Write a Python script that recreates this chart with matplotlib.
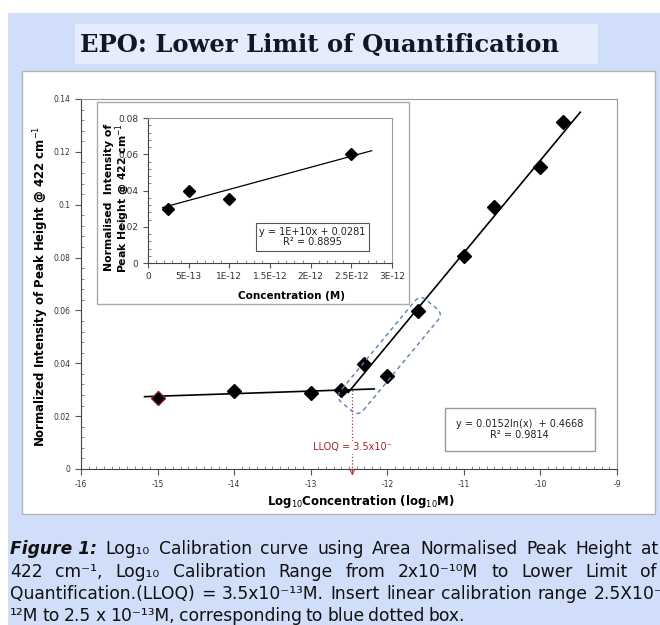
import numpy as np
import matplotlib
matplotlib.use("Agg")
import matplotlib.pyplot as plt
from matplotlib.patches import Rectangle, FancyBboxPatch
from matplotlib.ticker import MultipleLocator, FuncFormatter
from matplotlib.transforms import Affine2D

plt.rcParams['axes.unicode_minus'] = False
plt.rcParams['font.family'] = ['DejaVu Sans']

# main calibration: log10 concentration vs normalised peak height
log_conc = [-15.0, -14.0, -13.0, -12.6, -12.3, -12.0, -11.6, -11.0, -10.6, -10.0, -9.7]
peak_height = [0.0270, 0.0296, 0.0289, 0.0299, 0.0396, 0.0353, 0.0598, 0.0806, 0.0992, 0.1141, 0.1314]

# inset: linear calibration range
inset_conc = [2.5e-13, 5e-13, 1e-12, 2.5e-12]
inset_height = [0.0300, 0.0400, 0.0355, 0.0600]

# trendline from the chart label: y = 0.0152 ln(x) + 0.4668
log_a, log_b = 0.0152, 0.4668
lloq = 3.5e-13

W, H = 660, 625
def fx(px):
    return px / W
def fy(py):
    return 1 - py / H

fig = plt.figure(figsize=(6.6, 6.25), dpi=100)
fig.patch.set_facecolor('white')

# poster background, title box, white panel
fig.add_artist(Rectangle((fx(8), 0), 1, fy(13), transform=fig.transFigure,
                         facecolor='#d0defa', edgecolor='none', zorder=-5))
fig.add_artist(Rectangle((fx(75), fy(64)), fx(598) - fx(75), fy(24) - fy(64),
                         transform=fig.transFigure, facecolor='#e5edfd',
                         edgecolor='none', zorder=-4))
fig.text(fx(80), fy(45), 'EPO: Lower Limit of Quantification', family='DejaVu Serif',
         fontweight='bold', fontsize=17.5, color='#101828', ha='left', va='center')
fig.add_artist(Rectangle((fx(22), fy(514)), fx(655) - fx(22), fy(71) - fy(514),
                         transform=fig.transFigure, facecolor='white',
                         edgecolor='#b4b4b4', lw=1, zorder=-4))

# ---- main axes ----
ax = fig.add_axes([fx(81), fy(469), fx(617) - fx(81), fy(99) - fy(469)])
ax.set_facecolor('none')
ax.set_xlim(-16, -9)
ax.set_ylim(0, 0.14)
ax.xaxis.set_major_locator(MultipleLocator(1))
ax.xaxis.set_minor_locator(MultipleLocator(0.1))
ax.yaxis.set_major_locator(MultipleLocator(0.02))
ax.yaxis.set_minor_locator(MultipleLocator(0.004))
ax.yaxis.set_major_formatter(FuncFormatter(lambda v, p: '%g' % round(v, 4)))
ax.tick_params(which='major', direction='out', length=4, width=0.8, labelsize=5.5,
               labelcolor='#333333', color='#555555')
ax.tick_params(which='minor', direction='in', length=2.5, width=0.6, color='#777777')
ax.tick_params(axis='x', pad=4)
for s in ['left', 'bottom']:
    ax.spines[s].set_color('#444444')
for s in ['top', 'right']:
    ax.spines[s].set_color('#999999')

ax.set_xlabel('Log$_{10}$Concentration (log$_{10}$M)', fontsize=8.5, fontweight='bold')
ax.xaxis.set_label_coords(0.522, -0.064)
ax.set_ylabel('Normalized Intensity of Peak Height @ 422 cm$^{-1}$', fontsize=8.5,
              fontweight='bold')
ax.yaxis.set_label_coords(-0.056, 0.495)

# flat (below LLOQ) trend through the first four points
flat = np.polyfit(log_conc[:4], peak_height[:4], 1)
xf = np.array([-15.17, -12.17])
ax.plot(xf, np.polyval(flat, xf), color='black', lw=1.2, zorder=2)

# log trendline
xs = np.array([-12.51, -9.48])
ax.plot(xs, log_a * np.log(10.0 ** xs) + log_b, color='black', lw=1.2, zorder=2)

ax.plot(log_conc[1:], peak_height[1:], 'D', color='black', ms=7, zorder=3)
ax.plot(log_conc[:1], peak_height[:1], 'D', mfc='black', mec='#8b1a1a', mew=1.0,
        ms=7, zorder=3)

ax.text(-10.27, 0.0148, 'y = 0.0152ln(x)  + 0.4668\nR² = 0.9814', fontsize=7,
        ha='center', va='center', color='#222222', linespacing=1.1,
        bbox=dict(boxstyle='square,pad=1.15', fc='white', ec='#999999', lw=1))

# LLOQ marker
xl = np.log10(lloq)
yl = np.polyval(flat, xl)
ax.plot([xl, xl], [yl, -0.002], ls=':', color='#a33a3a', lw=0.9, clip_on=False, zorder=1)
ax.annotate('', xy=(xl, -0.0035), xytext=(xl, 0.001), annotation_clip=False,
            arrowprops=dict(arrowstyle='->', color='#a33a3a', lw=0.7))
ax.text(xl, 0.0083, 'LLOQ = 3.5x10⁻', color='#a3262e', fontsize=7,
        ha='center', va='center',
        bbox=dict(boxstyle='square,pad=0.15', fc='white', ec='none'))

# blue dashed box around the inset range (drawn in pixel space along the trendline)
fig.canvas.draw()
xm = np.mean(np.log10(inset_conc))
cx, cy = ax.transData.transform((xm, log_a * np.log(10.0 ** xm) + log_b))
p0 = ax.transData.transform((xs[0], log_a * np.log(10.0 ** xs[0]) + log_b))
p1 = ax.transData.transform((xs[1], log_a * np.log(10.0 ** xs[1]) + log_b))
ang = np.degrees(np.arctan2(p1[1] - p0[1], p1[0] - p0[0]))
box = FancyBboxPatch((-58, -23), 133, 30, boxstyle='round,pad=0,rounding_size=8',
                     transform=Affine2D().rotate_deg(ang).translate(cx, cy),
                     fill=False, ec='#5a7fb8', lw=1.0, ls=(0, (3, 2.5)), zorder=4)
fig.add_artist(box)

# ---- inset ----
fig.add_artist(Rectangle((fx(97), fy(304)), fx(409) - fx(97), fy(102) - fy(304),
                         transform=fig.transFigure, facecolor='white',
                         edgecolor='#aaaaaa', lw=1, zorder=1))
ai = fig.add_axes([fx(148), fy(263), fx(392) - fx(148), fy(118) - fy(263)])
ai.set_zorder(2)
ai.set_facecolor('none')
ai.set_xlim(0, 3e-12)
ai.set_ylim(0, 0.08)
ai.xaxis.set_major_locator(MultipleLocator(5e-13))
ai.xaxis.set_minor_locator(MultipleLocator(1e-13))
ai.yaxis.set_major_locator(MultipleLocator(0.02))
ai.yaxis.set_minor_locator(MultipleLocator(0.004))
ai.xaxis.set_major_formatter(FuncFormatter(lambda v, p: ('%g' % v).upper()))
ai.yaxis.set_major_formatter(FuncFormatter(lambda v, p: '%g' % round(v, 4)))
ai.tick_params(which='major', direction='out', length=3.5, width=0.8, labelsize=6.5,
               labelcolor='#333333', color='#555555')
ai.tick_params(which='minor', direction='in', length=2, width=0.6, color='#777777')
ai.tick_params(axis='x', pad=3)
for s in ['left', 'bottom']:
    ai.spines[s].set_color('#444444')
for s in ['top', 'right']:
    ai.spines[s].set_color('#999999')
ai.set_xlabel('Concentration (M)', fontsize=7.5, fontweight='bold')
ai.xaxis.set_label_coords(0.59, -0.19)
ai.set_ylabel('Normalised  Intensity of\nPeak Height @ 422 cm$^{-1}$', fontsize=7.8,
              fontweight='bold', linespacing=1.0)
ai.yaxis.set_label_coords(-0.065, 0.45)

lin = np.polyfit(inset_conc, inset_height, 1)
xi = np.array([0.18e-12, 2.75e-12])
ai.plot(xi, np.polyval(lin, xi), color='black', lw=0.9)
ai.plot(inset_conc, inset_height, 'D', color='black', ms=6)
ai.text(2.02e-12, 0.0143, 'y = 1E+10x + 0.0281\nR² = 0.8895', fontsize=7,
        ha='center', va='center', color='#222222', linespacing=1.1,
        bbox=dict(boxstyle='square,pad=0.35', fc='white', ec='#555555', lw=0.8))

# ---- caption (justified) ----
cap_fs = 12.3
bi = dict(fontweight='bold', fontstyle='italic')
caption = [
    ([('Figure 1:', bi), 'Log₁₀', 'Calibration', 'curve', 'using', 'Area',
      'Normalised', 'Peak', 'Height', 'at'], 554, 658),
    (['422', 'cm⁻¹,', 'Log₁₀', 'Calibration', 'Range', 'from',
      '2x10⁻¹⁰M', 'to', 'Lower', 'Limit', 'of'], 577, 657),
    (['Quantification.(LLOQ)', '=', '3.5x10⁻¹³M.', 'Insert', 'linear',
      'calibration', 'range', '2.5X10⁻'], 599, 664),
    (['¹²M', 'to', '2.5', 'x', '10⁻¹³M,', 'corresponding', 'to', 'blue',
      'dotted', 'box.'], 621, None),
]
renderer = fig.canvas.get_renderer()
for words, base, right in caption:
    texts = []
    for w in words:
        s, kw = (w if isinstance(w, tuple) else (w, {}))
        texts.append(fig.text(0, fy(base), s, fontsize=cap_fs, ha='left',
                              va='baseline', color='#111111', **kw))
    widths = [t.get_window_extent(renderer).width for t in texts]
    if right is None:
        gap = 4.2
    else:
        gap = (right - 10 - sum(widths)) / (len(texts) - 1)
    x = 10
    for t, wd in zip(texts, widths):
        t.set_x(fx(x))
        x += wd + gap

fig.savefig('out.png', dpi=100)
